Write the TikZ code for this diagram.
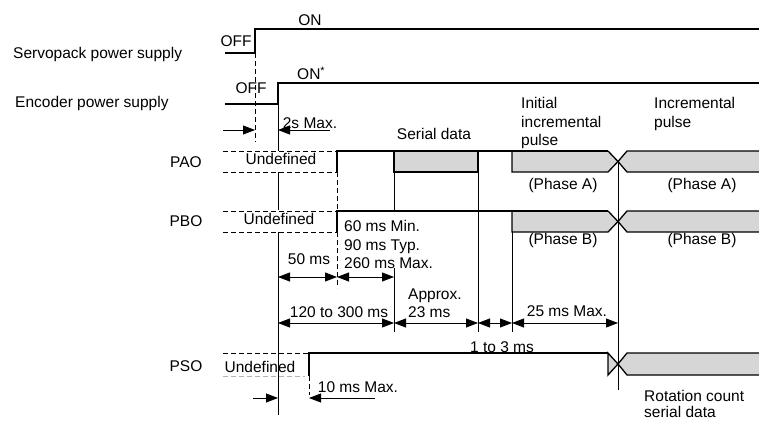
\documentclass[tikz,border=0pt]{standalone}
\usepackage{fontspec}
\setmainfont{Liberation Sans}
\usetikzlibrary{arrows.meta}
\begin{document}
\begin{tikzpicture}[x=1pt,y=-1pt,
  txt/.style={font=\fontsize{15.5}{18.5}\selectfont, inner sep=0pt, align=left},
  pwr/.style={line width=2.2pt},
  sig/.style={line width=1.3pt},
  thinl/.style={line width=0.8pt},
  dsh/.style={line width=1pt, dash pattern=on 5pt off 3pt},
  dim/.style={line width=0.8pt, -{Triangle[length=12pt,width=9pt]}},
  dimb/.style={line width=0.8pt, {Triangle[length=12pt,width=9pt]}-{Triangle[length=12pt,width=9pt]}},
  dat/.style={fill=black!16},
]
\useasboundingbox (0,0) rectangle (759,425);

% ---- labels
\node[txt, anchor=west] (sp) at (13,54) {Servopack power supply};
\node[txt, anchor=west] (ep) at (15,103) {Encoder power supply};
\node[txt] (off1) at (236,41) {OFF};
\node[txt] (on1) at (310,20) {ON};
\node[txt] (off2) at (251,88) {OFF};
\node[txt, anchor=west] (on2) at (297,73) {ON\textsuperscript{*}};
\node[txt] (pao) at (186,162) {PAO};
\node[txt] (pbo) at (186,221) {PBO};
\node[txt] (pso) at (186,366) {PSO};

% ---- power supplies
\draw[pwr] (225,53) -- (255,53) -- (255,29) -- (759,29);
\draw[pwr] (225,104) -- (278,104) -- (278,83) -- (759,83);
\draw[dsh] (255,53) -- (255,142);
\draw[thinl] (278,104) -- (278,151);
\draw[thinl] (278,172) -- (278,210);
\draw[thinl] (278,232) -- (278,415);
\draw[dim] (223,130) -- (255,130);
\draw[dim] (330,130) -- (278,130);
\node[txt] (twos) at (310,123) {2s Max.};

% ---- PAO
\draw[dsh] (223,151) -- (337,151);
\draw[dsh] (223,172) -- (337,172);
\node[txt] (undA) at (281,159) {Undefined};
\fill[dat] (394,151) rectangle (478,172);
\draw[sig] (394,151) rectangle (478,172);
\fill[dat] (512,151) -- (608,151) -- (618,161.5) -- (608,172) -- (512,172) -- cycle;
\draw[sig] (608,151) -- (618,161.5) -- (608,172) -- (512,172) -- (512,151);
\fill[dat] (759,151) -- (627,151) -- (618,161.5) -- (627,172) -- (759,172) -- cycle;
\draw[sig] (759,151) -- (627,151) -- (618,161.5) -- (627,172) -- (759,172);
\draw[sig] (337,172) -- (337,151) -- (608,151);
\node[txt] (serial) at (434,134) {Serial data};
\node[txt, anchor=north west] (initp) at (521,97.4) {Initial\\incremental\\pulse};
\node[txt, anchor=north west] (incp) at (654,97.4) {Incremental\\pulse};
\node[txt] (phA1) at (563,185) {(Phase A)};
\node[txt] (phA2) at (702,185) {(Phase A)};

% ---- PBO
\draw[dsh] (223,211) -- (337,211);
\draw[dsh] (223,232) -- (337,232);
\node[txt] (undB) at (279,219) {Undefined};
\fill[dat] (512,211) -- (608,211) -- (618,221.5) -- (608,232) -- (512,232) -- cycle;
\draw[sig] (608,211) -- (618,221.5) -- (608,232) -- (512,232) -- (512,211);
\fill[dat] (759,211) -- (627,211) -- (618,221.5) -- (627,232) -- (759,232) -- cycle;
\draw[sig] (759,211) -- (627,211) -- (618,221.5) -- (627,232) -- (759,232);
\draw[sig] (337,232) -- (337,211) -- (608,211);
\node[txt] (phB1) at (563,240) {(Phase B)};
\node[txt] (phB2) at (702,240) {(Phase B)};

% ---- vertical guides
\draw[dsh] (337,172) -- (337,211);
\draw[dsh] (337,232) -- (337,288);
\draw[thinl] (394,172) -- (394,211);
\draw[thinl] (394,268) -- (394,332);
\draw[thinl] (478,172) -- (478,332);
\draw[thinl] (512,232) -- (512,332);
\draw[thinl] (618,161.5) -- (618,390);

% ---- dimensions
\draw[dimb] (278,277) -- (337,277);
\draw[dimb] (337,277) -- (394,277);
\node[txt] (d50) at (309,259) {50 ms};
\node[txt, anchor=north west] (d60) at (344,220.4) {60 ms Min.\\90 ms Typ.\\260 ms Max.};
\draw[dimb] (278,323) -- (394,323);
\draw[dimb] (394,323) -- (478,323);
\draw[dimb] (478,323) -- (512,323);
\draw[dimb] (512,323) -- (618,323);
\node[txt] (d120) at (339,312) {120 to 300 ms};
\node[txt, anchor=north west] (d23) at (408,288.4) {Approx.\\23 ms};
\node[txt] (d25) at (567,311) {25 ms Max.};

% ---- PSO
\draw[dsh] (223,353) -- (309,353);
\draw[line width=0.8pt, black!30, dash pattern=on 5pt off 3pt] (223,376) -- (305,376);
\node[txt] (undS) at (260,367) {Undefined};
\draw[sig] (309,376) -- (309,353) -- (608,353);
\draw[dsh] (309,376) -- (309,395);
\filldraw[sig, dat] (608,353) -- (618,364) -- (608,375) -- cycle;
\fill[dat] (759,353) -- (627,353) -- (618,364) -- (627,375) -- (759,375) -- cycle;
\draw[sig] (759,353) -- (627,353) -- (618,364) -- (627,375) -- (759,375);
\node[txt] (d13) at (502,347) {1 to 3 ms};
\draw[dim] (253,398) -- (278,398);
\draw[dim] (375,398) -- (309,398);
\node[txt] (d10) at (358,387) {10 ms Max.};
\node[txt, anchor=north west, font=\fontsize{15.5}{16}\selectfont] (rot) at (644,390) {Rotation count\\serial data};
\end{tikzpicture}
\end{document}
